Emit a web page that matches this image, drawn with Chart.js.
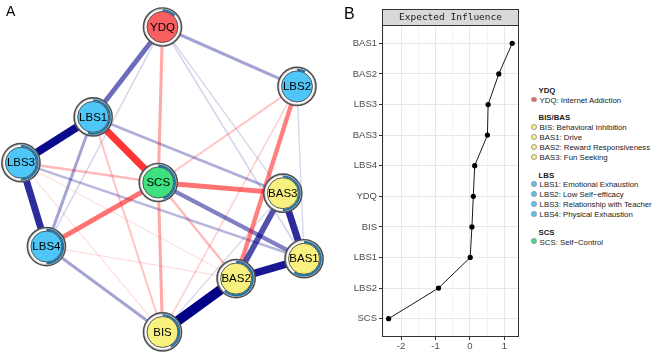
<!DOCTYPE html>
<html>
<head>
<meta charset="utf-8">
<script src="https://cdn.jsdelivr.net/npm/chart.js@4.4.1/dist/chart.umd.min.js"></script>
<style>
html,body{margin:0;padding:0;background:#fff;width:669px;height:353px;overflow:hidden;font-family:"Liberation Sans",Arial,sans-serif;}
#wrapA{position:absolute;left:0;top:0;width:340px;height:353px;}
#wrapB{position:absolute;left:340px;top:0;width:185px;height:353px;}
.plabel{position:absolute;font-size:15px;color:#000;line-height:1;}
#legend{position:absolute;left:531px;top:86px;font-size:7.8px;color:#1a1a1a;line-height:9.9px;white-space:nowrap;}
#legend .hdr{font-weight:bold;margin-top:7.6px;}
#legend .hdr:first-child{margin-top:0;}
#legend .dot{display:inline-block;width:3.6px;height:3.6px;border-radius:50%;border:0.6px solid #999;margin-right:3px;vertical-align:0.5px;}
#legend .hdr span{padding-left:7.5px;}
</style>
</head>
<body>
<div id="wrapA"><canvas id="chartA" width="340" height="353"></canvas></div>
<div id="wrapB"><canvas id="chartB" width="185" height="353"></canvas></div>
<div class="plabel" style="left:6px;top:4px;font-size:14px;">A</div>
<div class="plabel" style="left:344px;top:6px;font-size:16px;">B</div>
<div id="legend"></div>
<script>
// ---------------- Panel A data (network) ----------------
const nodeNames = ['YDQ','LBS1','LBS2','LBS3','LBS4','SCS','BIS','BAS1','BAS2','BAS3'];
const nodeGroups = ['YDQ','LBS','LBS','LBS','LBS','SCS','BIS/BAS','BIS/BAS','BIS/BAS','BIS/BAS'];
const layoutX = [0.00, -0.49, 0.95, -1.00, -0.82, -0.03, 0.00, 1.00, 0.52, 0.85];
const layoutY = [1.00, 0.41, 0.61, 0.11, -0.44, -0.02, -1.00, -0.52, -0.65, -0.09];
const predictability = [0.13, 0.55, 0.08, 0.50, 0.50, 0.45, 0.42, 0.60, 0.62, 0.50];

const edgeFrom = ['BAS2','LBS1','BAS2','LBS3','BAS3','BAS3','LBS1','YDQ','SCS','SCS','LBS2','SCS','LBS1','YDQ','LBS4','LBS1','YDQ','SCS','LBS3','LBS3','SCS','LBS2','LBS1','BIS','YDQ','YDQ','YDQ','LBS2','BIS','LBS3','LBS4','LBS3'];
const edgeTo   = ['BIS','LBS3','BAS1','LBS4','BAS1','BAS2','SCS','LBS1','BAS3','LBS4','BAS2','BAS1','LBS4','LBS2','BIS','BAS3','SCS','BIS','BAS1','SCS','BAS2','SCS','BIS','LBS2','LBS4','BAS3','BAS1','BAS1','BAS3','BIS','BAS2','BAS2'];
const edgeWeight = [1.00,0.80,0.75,0.68,0.68,0.55,-0.68,0.45,-0.45,-0.45,-0.40,0.38,0.25,0.25,0.25,0.22,-0.25,-0.25,0.18,-0.18,-0.18,-0.14,-0.14,-0.10,0.08,0.07,0.08,0.07,0.06,-0.05,-0.05,-0.04];

// ---------------- Legend data ----------------
const legendGroups = ['YDQ','BIS/BAS','LBS','SCS'];
const legendItems = [
  ['YDQ: Internet Addiction'],
  ['BIS: Behavioral Inhibition','BAS1: Drive','BAS2: Reward Responsiveness','BAS3: Fun Seeking'],
  ['LBS1: Emotional Exhaustion','LBS2: Low Self\u2212efficacy','LBS3: Relationship with Teacher','LBS4: Physical Exhaustion'],
  ['SCS: Self\u2212Control']
];

// ---------------- Panel B data (centrality) ----------------
const eiLabels = ['BAS1','BAS2','LBS3','BAS3','LBS4','YDQ','BIS','LBS1','LBS2','SCS'];
const eiValues = [1.23, 0.84, 0.53, 0.51, 0.14, 0.10, 0.06, 0.01, -0.91, -2.36];
const xTickLabels = [-2, -1, 0, 1];
const xMinorTicks = [-2.5, -1.5, -0.5, 0.5];

// ---------------- styles ----------------
const groupColors = {'YDQ':'#F95F61','BIS/BAS':'#F8F07F','LBS':'#4EC6F8','SCS':'#3DE17F'};

// legend
(function(){
  const lg = document.getElementById('legend');
  let html = '';
  legendGroups.forEach((g,gi)=>{
    html += '<div class="hdr"><span>'+g+'</span></div>';
    legendItems[gi].forEach(t=>{
      html += '<div class="item"><span class="dot" style="background:'+groupColors[g]+'"></span>'+t+'</div>';
    });
  });
  lg.innerHTML = html;
})();

// ---------------- Chart A ----------------
const maxW = Math.max(...edgeWeight.map(Math.abs));
const edgeDatasets = edgeFrom.map((f,i)=>{
  const a = Math.abs(edgeWeight[i])/maxW;
  const alpha = Math.min(1, 0.08 + 1.1*a);
  const col = edgeWeight[i] > 0 ? 'rgba(0,0,135,'+alpha+')' : 'rgba(255,10,10,'+alpha+')';
  const fi = nodeNames.indexOf(f), ti = nodeNames.indexOf(edgeTo[i]);
  return {
    data:[{x:layoutX[fi],y:layoutY[fi]},{x:layoutX[ti],y:layoutY[ti]}],
    showLine:true, borderColor:col, borderWidth: 0.8 + 9.0*a,
    pointRadius:0, order: 10 - a, borderCapStyle:'butt'
  };
});
const nodeDataset = {
  data: nodeNames.map((n,i)=>({x:layoutX[i], y:layoutY[i]})),
  pointRadius:0, showLine:false, order:-100
};

const nodePlugin = {
  id:'nodes',
  afterDatasetsDraw(chart){
    const meta = chart.getDatasetMeta(chart.data.datasets.length-1);
    const ctx = chart.ctx;
    ctx.save();
    meta.data.forEach((pt,i)=>{
      const x = pt.x, y = pt.y;
      ctx.beginPath(); ctx.arc(x,y,19,0,Math.PI*2);
      ctx.fillStyle='#fff'; ctx.fill();
      ctx.lineWidth=1.7; ctx.strokeStyle='#505050'; ctx.stroke();
      ctx.beginPath(); ctx.arc(x,y,17.9,0,Math.PI*2);
      ctx.lineWidth=0.6; ctx.strokeStyle='#b0b0b0'; ctx.stroke();
      ctx.beginPath();
      ctx.arc(x,y,16.7,-Math.PI/2,-Math.PI/2+Math.PI*2*predictability[i]);
      ctx.lineWidth=2.2; ctx.strokeStyle='#2275A8'; ctx.stroke();
      ctx.beginPath(); ctx.arc(x,y,15.5,0,Math.PI*2);
      ctx.fillStyle=groupColors[nodeGroups[i]]; ctx.fill();
      ctx.lineWidth=0.9; ctx.strokeStyle='#4a4a4a'; ctx.stroke();
      ctx.fillStyle='#000';
      ctx.font='11.5px "Liberation Sans", Arial, sans-serif';
      ctx.textAlign='center'; ctx.textBaseline='middle';
      ctx.fillText(nodeNames[i], x, y+0.5);
    });
    ctx.restore();
  }
};

new Chart(document.getElementById('chartA'), {
  type:'scatter',
  data:{datasets:[...edgeDatasets, nodeDataset]},
  options:{
    responsive:false, animation:false, devicePixelRatio:1,
    layout:{padding:0},
    plugins:{legend:{display:false}, tooltip:{enabled:false}},
    scales:{
      x:{type:'linear', display:false, min:-1.148, max:1.254},
      y:{type:'linear', display:false, min:-1.138, max:1.177}
    }
  },
  plugins:[nodePlugin]
});

// ---------------- Chart B ----------------
const panelPlugin = {
  id:'panel',
  beforeDatasetsDraw(chart){
    const {ctx, chartArea:a} = chart;
    ctx.save();
    ctx.lineWidth=1; ctx.strokeStyle='#333';
    ctx.strokeRect(a.left+0.5, a.top+0.5, a.right-a.left-1, a.bottom-a.top-1);
    ctx.fillStyle='#d9d9d9';
    ctx.fillRect(a.left, 9, a.right-a.left, a.top-9);
    ctx.strokeRect(a.left+0.5, 9.5, a.right-a.left-1, a.top-9);
    ctx.fillStyle='#1a1a1a';
    ctx.font='9.5px "DejaVu Sans Mono", monospace';
    ctx.textAlign='center'; ctx.textBaseline='middle';
    ctx.fillText('Expected Influence', (a.left+a.right)/2, (9+a.top)/2+0.5);
    ctx.restore();
  }
};

new Chart(document.getElementById('chartB'), {
  type:'scatter',
  data:{datasets:[{
    data: eiValues.map((v,i)=>({x:v, y:i})),
    showLine:true, borderColor:'#1a1a1a', borderWidth:1,
    pointRadius:2.6, pointBackgroundColor:'#000', pointBorderWidth:0
  }]},
  options:{
    responsive:false, animation:false, devicePixelRatio:1,
    layout:{padding:{top:25,right:6,left:0,bottom:0}},
    plugins:{legend:{display:false}, tooltip:{enabled:false}},
    scales:{
      x:{
        type:'linear', min:-2.552, max:1.427,
        afterBuildTicks(s){ s.ticks = [...xTickLabels, ...xMinorTicks].sort((p,q)=>p-q).map(v=>({value:v})); },
        afterFit(s){ s.height = 16; },
        border:{display:false},
        grid:{
          color:(c)=> xTickLabels.includes(c.tick && c.tick.value) ? '#e8e8e8' : '#f3f3f3',
          tickColor:(c)=> xTickLabels.includes(c.tick && c.tick.value) ? '#333' : 'rgba(0,0,0,0)',
          tickLength:3, lineWidth:1
        },
        ticks:{
          autoSkip:false, maxRotation:0, padding:1, color:'#4d4d4d',
          font:{family:'"Liberation Sans", Arial, sans-serif', size:9.5},
          callback:(v)=> xTickLabels.includes(v) ? String(v) : ''
        }
      },
      y:{
        type:'linear', min:-0.6, max:9.6, reverse:true,
        afterBuildTicks(s){ s.ticks = eiLabels.map((l,i)=>({value:i})); },
        afterFit(s){ s.width = 42; },
        border:{display:false},
        grid:{color:'#e8e8e8', tickColor:'#333', tickLength:3, lineWidth:1},
        ticks:{
          autoSkip:false, padding:2, color:'#4d4d4d',
          font:{family:'"Liberation Sans", Arial, sans-serif', size:9.5},
          callback:(v)=> eiLabels[v]
        }
      }
    }
  },
  plugins:[panelPlugin]
});
</script>
</body>
</html>
